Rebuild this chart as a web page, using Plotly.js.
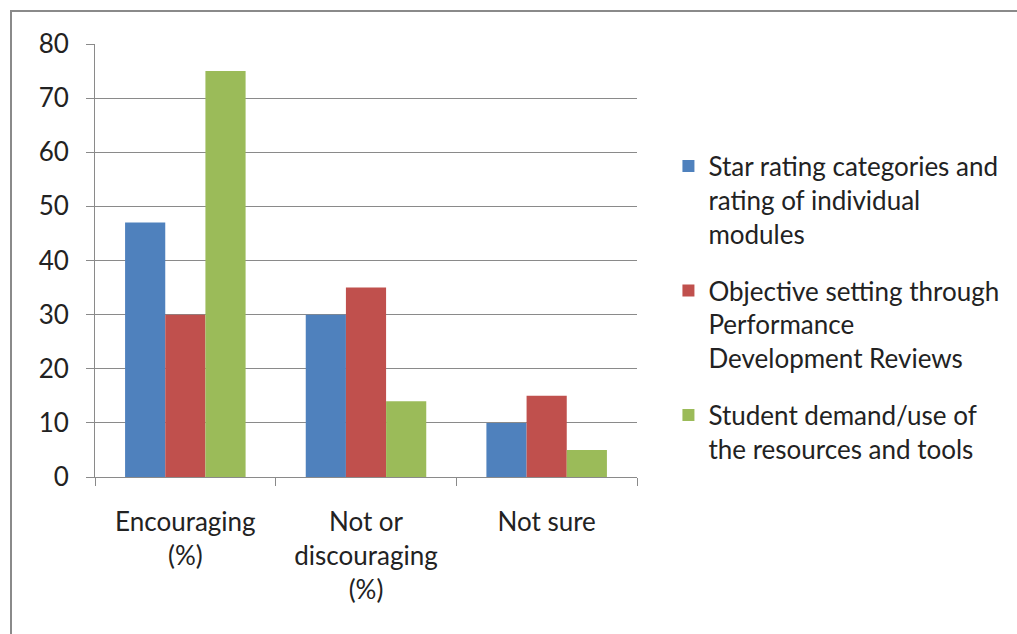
<!DOCTYPE html>
<html>
<head>
<meta charset="utf-8">
<script src="https://cdn.plot.ly/plotly-3.0.1.min.js"></script>
<style>
  html, body { margin: 0; padding: 0; background: #fff; }
  #wrap { position: relative; width: 1017px; height: 634px; overflow: hidden; }
  #chart { position: absolute; left: 0; top: 0; width: 1017px; height: 634px; }
  #frame { position: absolute; left: 10px; top: 10px; width: 1100px; height: 700px;
           border: 2px solid #8a8a8a; pointer-events: none; box-sizing: border-box; }
</style>
</head>
<body>
<div id="wrap">
  <div id="chart"></div>
  <div id="frame"></div>
</div>
<script>
const categories = ["Encouraging (%)", "Not or discouraging (%)", "Not sure"];
const tickLabels = ["Encouraging<br>(%)", "Not or<br>discouraging<br>(%)", "Not sure"];
const seriesNames = [
  "Star rating categories and<br>rating of individual<br>modules",
  "Objective setting through<br>Performance<br>Development Reviews",
  "Student demand/use of<br>the resources and tools"
];
const starRating = [47, 30, 10];
const objectiveSetting = [30, 35, 15];
const studentDemand = [75, 14, 5];
const colors = ["#4F81BD", "#C0504D", "#9BBB59"];
const yTicks = [0, 10, 20, 30, 40, 50, 60, 70, 80];

const FONT = "Lato, 'Open Sans', sans-serif";
const FS = 26;
const values = [starRating, objectiveSetting, studentDemand];
const data = values.map((v, i) => ({
  type: "bar",
  name: seriesNames[i],
  legendgroup: "g" + i,
  x: categories,
  y: v,
  marker: { color: colors[i], line: { width: 0 } }
}));

const layout = {
  width: 1017,
  height: 634,
  margin: { l: 95, r: 380, t: 44, b: 157, pad: 0 },
  paper_bgcolor: "#ffffff",
  plot_bgcolor: "#ffffff",
  barmode: "group",
  bargap: 0.333,
  bargroupgap: 0,
  font: { family: FONT, size: FS, color: "#222222" },
  xaxis: {
    type: "category",
    tickvals: categories,
    ticktext: tickLabels,
    showgrid: false,
    showline: true,
    linecolor: "#8a8a8a",
    linewidth: 1,
    ticks: "outside",
    tickson: "boundaries",
    ticklen: 8,
    tickcolor: "#8a8a8a",
    ticklabelstandoff: 22,
    tickfont: { family: FONT, size: FS, color: "#222222" },
    zeroline: false,
    fixedrange: true
  },
  yaxis: {
    range: [0, 80],
    tickvals: yTicks,
    showgrid: true,
    gridcolor: "#8a8a8a",
    gridwidth: 1,
    showline: true,
    linecolor: "#8a8a8a",
    linewidth: 1,
    ticks: "outside",
    ticklen: 8,
    tickcolor: "#8a8a8a",
    ticklabelstandoff: 12,
    tickfont: { family: FONT, size: FS, color: "#222222" },
    zeroline: false,
    fixedrange: true
  },
  legend: {
    x: 1.058,
    xanchor: "left",
    y: 0.772,
    yanchor: "top",
    valign: "top",
    traceorder: "grouped",
    tracegroupgap: 20,
    font: { family: FONT, size: FS, color: "#222222" },
    bgcolor: "rgba(0,0,0,0)",
    itemclick: false,
    itemdoubleclick: false
  },
  showlegend: true
};

Plotly.newPlot("chart", data, layout, { displayModeBar: false, staticPlot: true });
</script>
</body>
</html>
